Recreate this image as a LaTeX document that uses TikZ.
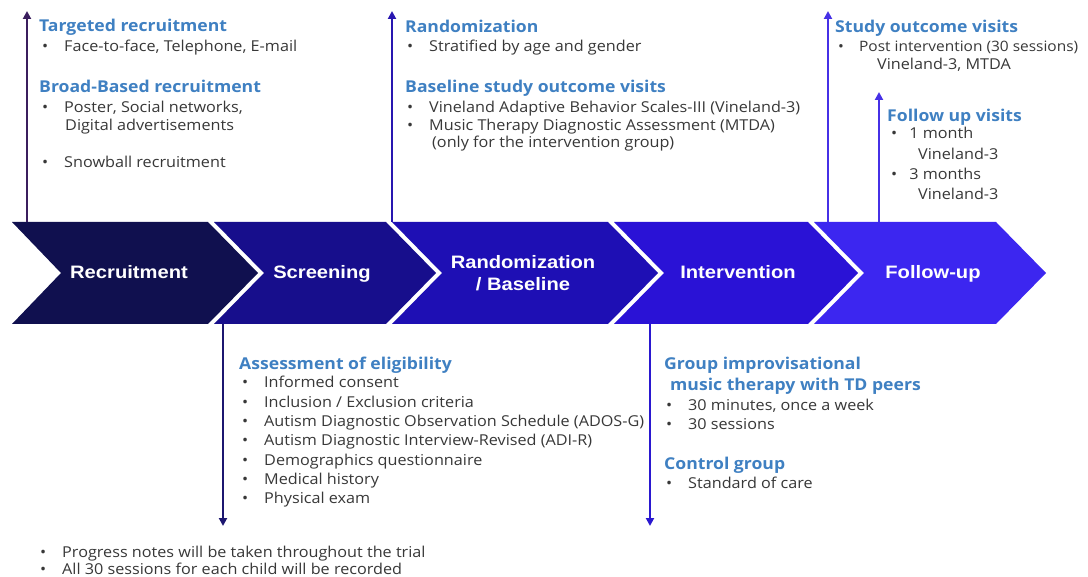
\documentclass[tikz,border=0pt]{standalone}
\usepackage{fontspec}
\setmainfont{Open Sans}[FakeStretch=1.08]
\newfontfamily\chevfont{Liberation Sans}[FakeStretch=1.12]
\usetikzlibrary{arrows.meta}
\definecolor{chevA}{HTML}{10104F}
\definecolor{chevB}{HTML}{170E8C}
\definecolor{chevC}{HTML}{1E0FB4}
\definecolor{chevD}{HTML}{2A12D6}
\definecolor{chevE}{HTML}{3C26F0}
\definecolor{arrRec}{HTML}{3B1E5E}
\definecolor{arrScr}{HTML}{1C1670}
\definecolor{arrRand}{HTML}{2816B0}
\definecolor{arrInt}{HTML}{2A18D0}
\definecolor{arrStudy}{HTML}{4630E6}
\definecolor{headc}{HTML}{3F80C2}
\definecolor{bodyc}{HTML}{383838}
\newcommand{\bl}{\makebox[22pt][l]{•}}
\newcommand{\bls}{\makebox[14pt][l]{•}}
\tikzset{
  chevlab/.style={text=white, font=\chevfont\bfseries\fontsize{18}{22}\selectfont, align=center, inner sep=0pt},
  chevone/.style={chevlab, anchor=base},
  head/.style={anchor=base west, inner sep=0pt, text=headc, font=\bfseries\fontsize{16.3}{18}\selectfont},
  body/.style={anchor=base west, inner sep=0pt, text=bodyc, font=\fontsize{15}{17}\selectfont},
  vline/.style={line width=2.4pt, -{Triangle[length=8pt,width=8pt]}},
}
\begin{document}
\begin{tikzpicture}[x=1pt,y=-1pt]
\useasboundingbox (0,0) rectangle (1088,577);
\fill[white] (0,0) rectangle (1088,577);
% chevrons
\fill[chevA] (12,222) -- (208,222) -- (258,273) -- (208,324) -- (12,324) -- (61,273) -- cycle;
\fill[chevB] (214,222) -- (386,222) -- (436,273) -- (386,324) -- (214,324) -- (264,273) -- cycle;
\fill[chevC] (392,222) -- (608,222) -- (658,273) -- (608,324) -- (392,324) -- (442,273) -- cycle;
\fill[chevD] (614,222) -- (808,222) -- (858,273) -- (808,324) -- (614,324) -- (664,273) -- cycle;
\fill[chevE] (814,222) -- (996,222) -- (1046,273) -- (996,324) -- (814,324) -- (864,273) -- cycle;
\node[chevone] (lrec) at (129,279) {Recruitment};
\node[chevone] (lscr) at (322,279) {Screening};
\node[chevlab] (lran) at (523,273) {Randomization\\/ Baseline};
\node[chevone] (lint) at (738,279) {Intervention};
\node[chevone] (lfol) at (933,279) {Follow-up};
% arrow coordinates
\coordinate (recS) at (27,222);  \coordinate (recE) at (27,11);
\coordinate (ranS) at (392,222); \coordinate (ranE) at (392,11);
\coordinate (stuS) at (828,222); \coordinate (stuE) at (828,11);
\coordinate (folS) at (879,222); \coordinate (folE) at (879,92);
\coordinate (scrS) at (223,324); \coordinate (scrE) at (223,526);
\coordinate (intS) at (650,324); \coordinate (intE) at (650,526);
\draw[vline, arrRec] (recS) -- (recE);
\draw[vline, arrRand] (ranS) -- (ranE);
\draw[vline, arrStudy] (stuS) -- (stuE);
\draw[vline, arrStudy] (folS) -- (folE);
\draw[vline, arrScr] (scrS) -- (scrE);
\draw[vline, arrInt] (intS) -- (intE);
% block 1
\node[head] (h1) at (39,32) {Targeted recruitment};
\node[body] (b1a) at (42,52) {\bl Face-to-face, Telephone, E-mail};
\node[head] (h2) at (39,93) {Broad-Based recruitment};
\node[body] (b2a) at (42,113) {\bl Poster, Social networks,};
\node[body] (b2b) at (65,131) {Digital advertisements};
\node[body] (b2c) at (42,168) {\bl Snowball recruitment};
% block 2
\node[head] (h3) at (405,33) {Randomization};
\node[body] (b3a) at (407,52) {\bl Stratified by age and gender};
\node[head] (h4) at (405,93) {Baseline study outcome visits};
\node[body] (b4a) at (407,113) {\bl Vineland Adaptive Behavior Scales-III (Vineland-3)};
\node[body] (b4b) at (407,131) {\bl Music Therapy Diagnostic Assessment (MTDA)};
\node[body] (b4c) at (432,148) {(only for the intervention group)};
% block 3
\node[head] (h5) at (835,33) {Study outcome visits};
\node[body, font=\fontsize{14.3}{17}\selectfont] (b5a) at (838,52) {\makebox[21pt][l]{•}Post intervention (30 sessions)};
\node[body] (b5b) at (877,70) {Vineland-3, MTDA};
\node[head] (h6) at (887,122) {Follow up visits};
\node[body] (b6a) at (891,139) {\bls\ 1 month};
\node[body] (b6b) at (918,160) {Vineland-3};
\node[body] (b6c) at (891,180) {\bls\ 3 months};
\node[body] (b6d) at (918,200) {Vineland-3};
% block 4
\node[head] (h7) at (239,370) {Assessment of eligibility};
\node[body] (b7a) at (242,388) {\bl Informed consent};
\node[body] (b7b) at (242,408) {\bl Inclusion / Exclusion criteria};
\node[body] (b7c) at (242,427) {\bl Autism Diagnostic Observation Schedule (ADOS-G)};
\node[body] (b7d) at (242,446) {\bl Autism Diagnostic Interview-Revised (ADI-R)};
\node[body] (b7e) at (242,465) {\bl Demographics questionnaire};
\node[body] (b7f) at (242,484) {\bl Medical history};
\node[body] (b7g) at (242,503) {\bl Physical exam};
% block 5
\node[head] (h8) at (664,370) {Group improvisational};
\node[head] (h8b) at (670,391) {music therapy with TD peers};
\node[body] (b8a) at (666,411) {\bl 30 minutes, once a week};
\node[body] (b8b) at (666,430) {\bl 30 sessions};
\node[head] (h9) at (664,470) {Control group};
\node[body] (b9a) at (666,489) {\bl Standard of care};
% bottom notes
\node[body] (n1) at (40,557) {\bl Progress notes will be taken throughout the trial};
\node[body] (n2) at (40,574) {\bl All 30 sessions for each child will be recorded};
\end{tikzpicture}
\end{document}
